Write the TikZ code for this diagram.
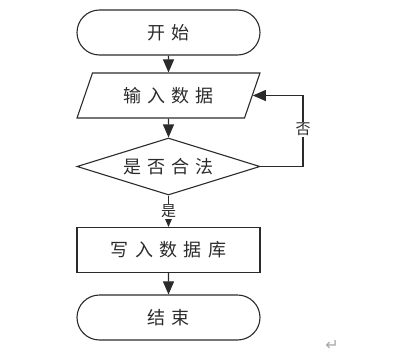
\documentclass[tikz,border=0pt]{standalone}
\usepackage{fontspec}
\newfontfamily\cjk[LetterSpace=35]{Noto Sans CJK SC}
\newfontfamily\symfont{DejaVu Sans}
\usetikzlibrary{shapes.geometric,shapes.misc,arrows.meta}
\definecolor{ink}{HTML}{2B2B2B}
\begin{document}
\begin{tikzpicture}[x=1pt, y=-1pt,
    base/.style={draw=ink, line width=1.1pt, text=ink, font=\cjk\fontsize{18}{18}\selectfont, inner sep=0pt},
    term/.style={base, rounded rectangle, minimum width=183pt, minimum height=45pt},
    io/.style={base, trapezium, trapezium left angle=61, trapezium right angle=119, trapezium stretches=true, minimum width=183pt, minimum height=45pt},
    test/.style={base, diamond, shape aspect=3.2, minimum width=183pt, minimum height=57pt},
    proc/.style={base, rectangle, minimum width=183pt, minimum height=45pt},
    lbl/.style={fill=white, text=ink, inner sep=1pt, font=\cjk\fontsize{15}{15}\selectfont},
    arr/.style={draw=ink, line width=1.1pt, -{Triangle[length=13pt, width=11pt]}},
]
    \useasboundingbox (0,0) rectangle (413,362);

    % flow
    \node[term] (start) at (168.5, 32.5) {开始};
    \node[io]   (inp)   at (168.5, 95.5) {输入数据};
    \node[test] (chk)   at (168.5, 166.5) {是否合法};
    \node[proc] (save)  at (168.5, 250) {写入数据库};
    \node[term] (stop)  at (168.5, 317.5) {结束};

    % connectors
    \draw[arr] (start) -- (inp);
    \draw[arr] (inp) -- (chk);
    \draw[arr] (chk) -- node[lbl, pos=0.5] {是} (save);
    \draw[arr] (save) -- (stop);

    % back loop
    \coordinate (loop) at (303, 166.5);
    \draw[arr] (chk.east) -- (loop) |- node[lbl, pos=0.26] {否} (inp.east);

    % paragraph mark
    \node[text=gray!70, font=\symfont\fontsize{16}{16}\selectfont] (mark) at (332, 345) {↵};
\end{tikzpicture}
\end{document}
